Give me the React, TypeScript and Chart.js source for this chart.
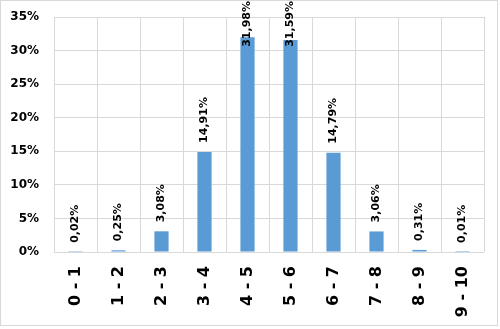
import React, { useEffect, useRef } from "react";
import { Chart, registerables } from "chart.js";

Chart.register(...registerables);

const categories = ["0 - 1", "1 - 2", "2 - 3", "3 - 4", "4 - 5", "5 - 6", "6 - 7", "7 - 8", "8 - 9", "9 - 10"];
const shares = [0.0002, 0.0025, 0.0308, 0.1491, 0.3198, 0.3159, 0.1479, 0.0306, 0.0031, 0.0001];
const yMax = 0.35;
const yStep = 0.05;

const fmtPct = (v: number, digits: number) => (v * 100).toFixed(digits).replace(".", ",") + "%";

const borderPlugin = {
  id: "outerBorder",
  beforeDraw(chart: any) {
    const ctx = chart.ctx;
    ctx.save();
    ctx.fillStyle = "#ffffff";
    ctx.fillRect(0, 0, chart.width, chart.height);
    ctx.strokeStyle = "#d9d9d9";
    ctx.lineWidth = 1;
    ctx.strokeRect(0.5, 0.5, 497, 325);
    ctx.restore();
  },
};

const valueLabelPlugin = {
  id: "valueLabels",
  afterDatasetsDraw(chart: any) {
    const ctx = chart.ctx;
    const meta = chart.getDatasetMeta(0);
    ctx.save();
    ctx.font = "bold 11px 'DejaVu Sans'";
    ctx.fillStyle = "#000000";
    ctx.textAlign = "left";
    ctx.textBaseline = "middle";
    meta.data.forEach((el: any, i: number) => {
      const text = fmtPct(shares[i], 2);
      const w = ctx.measureText(text).width;
      const bottom = Math.max(el.y - 9, 1 + w);
      ctx.save();
      ctx.translate(el.x, bottom);
      ctx.rotate(-Math.PI / 2);
      ctx.fillText(text, 0, 0);
      ctx.restore();
    });
    ctx.restore();
  },
};

export default function App() {
  const ref = useRef<HTMLCanvasElement | null>(null);
  useEffect(() => {
    if (!ref.current) return;
    const chart = new Chart(ref.current, {
      type: "bar",
      data: {
        labels: categories,
        datasets: [
          {
            data: shares,
            backgroundColor: "#5b9bd5",
            barPercentage: 0.33,
            categoryPercentage: 1,
          },
        ],
      },
      options: {
        animation: false,
        responsive: true,
        maintainAspectRatio: false,
        layout: { padding: { left: 0, right: 16, top: 17, bottom: 0 } },
        plugins: { legend: { display: false }, tooltip: { enabled: false } },
        scales: {
          x: {
            grid: { color: "#d9d9d9", drawTicks: false, offset: true },
            border: { display: false },
            ticks: {
              autoSkip: false,
              minRotation: 90,
              maxRotation: 90,
              padding: 14,
              color: "#000000",
              font: { family: "'DejaVu Sans'", weight: "bold", size: 16 },
            },
            afterFit: (s: any) => {
              s.height = 77;
            },
          },
          y: {
            min: 0,
            max: yMax,
            grid: { color: "#d9d9d9", drawTicks: false },
            border: { display: false },
            ticks: {
              stepSize: yStep,
              padding: 15,
              color: "#000000",
              font: { family: "'DejaVu Sans'", weight: "bold", size: 12 },
              callback: (v: any) => Math.round(Number(v) * 100) + "%",
            },
            afterFit: (s: any) => {
              s.width = 54;
              s.paddingTop = 7;
              s.paddingBottom = 7;
            },
          },
        },
      },
      plugins: [borderPlugin, valueLabelPlugin],
    });
    return () => chart.destroy();
  }, []);
  return (
    <div style={{ position: "fixed", left: 0, top: 0, width: 500, height: 329 }}>
      <canvas ref={ref} />
    </div>
  );
}
